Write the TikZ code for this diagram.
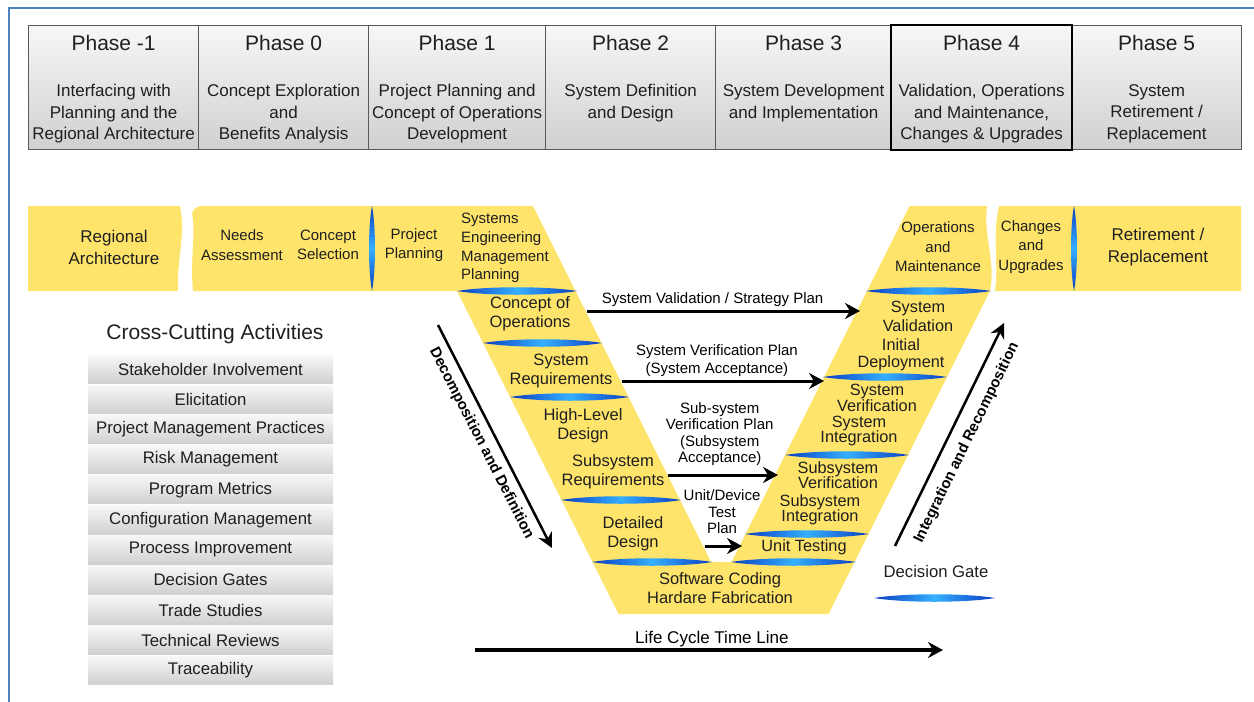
\documentclass[tikz,border=0pt]{standalone}
\usepackage{fontspec}
\setmainfont{Liberation Sans}
\usetikzlibrary{arrows.meta}

\definecolor{vyellow}{HTML}{FFE46B}
\definecolor{gatedark}{HTML}{0A3CC2}
\definecolor{gatelight}{HTML}{34B0FF}
\definecolor{framebl}{HTML}{4F81BD}
\definecolor{boxtop}{HTML}{F7F7F7}
\definecolor{boxbot}{HTML}{D0D0D0}

% decision gate lenses: horizontal {x1}{x2}{y}, vertical {x}{y1}{y2}
\newcommand{\hgate}[3]{%
  \shade[left color=gatedark, right color=gatedark, middle color=gatelight]
    (#1,#3) .. controls ({#1+(#2-#1)*0.25},{#3-5}) and ({#1+(#2-#1)*0.75},{#3-5}) .. (#2,#3)
            .. controls ({#1+(#2-#1)*0.75},{#3+5}) and ({#1+(#2-#1)*0.25},{#3+5}) .. (#1,#3) -- cycle;}
\newcommand{\vgate}[3]{%
  \shade[top color=gatedark, bottom color=gatedark, middle color=gatelight]
    (#1,#2) .. controls ({#1+4},{#2+(#3-#2)*0.25}) and ({#1+4},{#2+(#3-#2)*0.75}) .. (#1,#3)
            .. controls ({#1-4},{#2+(#3-#2)*0.75}) and ({#1-4},{#2+(#3-#2)*0.25}) .. (#1,#2) -- cycle;}

\begin{document}
\begin{tikzpicture}
    [ x=1pt, y=-1pt
    , every node/.style={inner sep=0pt, text=black!88}
    , phasebox/.style={draw=black!65, line width=1.2pt, top color=boxtop, bottom color=boxbot, anchor=north west, minimum height=124pt}
    , phasetitle/.style={font=\fontsize{21}{25}\selectfont}
    , phasetext/.style={font=\fontsize{17}{21.5}\selectfont, align=center, anchor=north}
    , bandbig/.style={font=\fontsize{17}{22}\selectfont, align=center}
    , bandsmall/.style={font=\fontsize{15}{19.5}\selectfont, align=center}
    , armtext/.style={font=\fontsize{16.5}{19}\selectfont, align=center}
    , tighttext/.style={font=\fontsize{16.3}{15.5}\selectfont, align=center}
    , plantext/.style={font=\fontsize{15}{16.5}\selectfont, align=center, text=black}
    , activity/.style={top color=boxtop, bottom color=boxbot, minimum width=245pt, minimum height=28.5pt, font=\fontsize{16.8}{20}\selectfont}
    , flow/.style={line width=3pt, -{Stealth[length=15pt, width=16pt, inset=5pt]}}
    , trend/.style={line width=2.5pt, -{Stealth[length=15pt, width=15pt, inset=5pt]}}
    , trendlabel/.style={font=\bfseries\fontsize{15}{18}\selectfont, sloped, text=black}
    ]

    \useasboundingbox (0,0) rectangle (1254,702);
    \draw[framebl, line width=1.5pt] (1254,8) -- (9,8) -- (9,702);

    % phases
    \foreach \n/\x/\w/\ttl/\dsc in
      {phm/28/170/{Phase -1}/{Interfacing with\\Planning and the\\Regional Architecture},
       ph0/198/170/{Phase 0}/{Concept Exploration\\and\\Benefits Analysis},
       ph1/368/177/{Phase 1}/{Project Planning and\\Concept of Operations\\Development},
       ph2/545/170/{Phase 2}/{System Definition\\and Design},
       ph3/715/176/{Phase 3}/{System Development\\and Implementation},
       ph4/891/180/{Phase 4}/{Validation, Operations\\and Maintenance,\\Changes \& Upgrades},
       ph5/1071/170/{Phase 5}/{System\\Retirement /\\Replacement}}
    {
      \node[phasebox, minimum width=\w pt] (\n) at (\x,25) {};
      \node[phasetitle] (\n-t) at ([yshift=-18pt]\n.north) {\ttl};
      \node[phasetext] (\n-d) at ([yshift=-59pt]\n.north) {\dsc};
    }
    \draw[black, line width=1.6pt] (ph4.north west) rectangle (ph4.south east);

    % the V
    \fill[vyellow] (28,206) -- (180,206) .. controls (186,235) and (176,265) .. (178,291) -- (28,291) -- cycle;
    \fill[vyellow] (202,206) -- (533,206) -- (711,562) -- (731.5,562) -- (909.5,206) -- (987,206)
      .. controls (983,235) and (996,262) .. (990,291) -- (828.5,614) -- (618.5,614) -- (457,291)
      -- (193,291) .. controls (190,260) and (196,230) .. (192,214) .. controls (193,209) and (197,206) .. (202,206) -- cycle;
    \fill[vyellow] (999,206) -- (1241,206) -- (1241,291) -- (995,291) .. controls (999,265) and (992,235) .. (999,206) -- cycle;

    \vgate{372}{206}{291}
    \vgate{1074}{206}{291}
    \hgate{457}{577}{291}
    \hgate{483}{602}{343}
    \hgate{510}{629}{397}
    \hgate{561}{681}{500}
    \hgate{592}{712}{562}
    \hgate{866}{991}{291}
    \hgate{823}{947}{377}
    \hgate{785}{909}{455}
    \hgate{745}{869}{534}
    \hgate{731}{856}{562}

    \node[bandbig] (regarch) at (114,247) {Regional\\Architecture};
    \node[bandsmall] (needs) at (242,245) {Needs\\Assessment};
    \node[bandsmall] (concsel) at (328,245) {Concept\\Selection};
    \node[bandsmall] (projplan) at (414,245) {Project\\Planning};
    \node[bandsmall, align=left, anchor=west, font=\fontsize{15}{18.7}\selectfont] (semp) at (461,248) {Systems\\Engineering\\Management\\Planning};
    \node[bandsmall] (opsmaint) at (938,247) {Operations\\and\\Maintenance};
    \node[bandsmall] (changes) at (1031,247) {Changes\\and\\Upgrades};
    \node[bandbig] (retire) at (1158,247) {Retirement /\\Replacement};

    \node[armtext] (conops) at (530,314) {Concept of\\Operations};
    \node[armtext] (sysreq) at (561,371) {System\\Requirements};
    \node[armtext] (hld) at (583,426) {High-Level\\Design};
    \node[armtext] (subreq) at (613,472) {Subsystem\\Requirements};
    \node[armtext] (detdes) at (633,534) {Detailed\\Design};
    \node[armtext] (swcode) at (720,588) {Software Coding\\Hardare Fabrication};

    \node[tighttext, font=\fontsize{16.3}{19}\selectfont] (sysval) at (918,316) {System\\Validation};
    \node[tighttext, font=\fontsize{16.3}{17}\selectfont] (initdep) at (901,355) {Initial\\Deployment};
    \node[tighttext] (sysver) at (877,398) {System\\Verification};
    \node[tighttext] (sysint) at (859,431) {System\\Integration};
    \node[tighttext] (subver) at (838,475) {Subsystem\\Verification};
    \node[tighttext] (subint) at (820,510) {Subsystem\\Integration};
    \node[tighttext] (unittest) at (804,547) {Unit Testing};

    % plans across the V
    \coordinate (valS) at (587,311);  \coordinate (valE) at (860,311);
    \coordinate (verS) at (622,381);  \coordinate (verE) at (824,381);
    \coordinate (subS) at (668,475);  \coordinate (subE) at (778,475);
    \coordinate (unitS) at (705,546); \coordinate (unitE) at (742,546);

    \draw[flow] (valS) -- node[plantext, pos=0.46, above=2.4pt] (valplan) {System Validation / Strategy Plan} (valE);
    \draw[flow] (verS) -- node[plantext, pos=0.47, above=2.5pt, font=\fontsize{15}{18}\selectfont] (verplan) {System Verification Plan\\(System Acceptance)} (verE);
    \draw[flow] (subS) -- node[plantext, pos=0.47, above=7.4pt] (subplan) {Sub-system\\Verification Plan\\(Subsystem\\Acceptance)} (subE);
    \draw[flow] (unitS) -- node[plantext, pos=0.46, above=10.6pt] (unitplan) {Unit/Device\\Test\\Plan} (unitE);

    % decomposition / integration
    \coordinate (decS) at (438,325);  \coordinate (decE) at (552,548);
    \coordinate (intS) at (895,546);  \coordinate (intE) at (1004,323);
    \draw[trend] (decS) -- node[trendlabel, below=7pt] (decomp) {Decomposition and Definition} (decE);
    \draw[trend] (intS) -- node[trendlabel, below=11pt] (integ) {Integration and Recomposition} (intE);

    % decision gate key
    \node[font=\fontsize{16.7}{20}\selectfont] (gate) at (936,572) {Decision Gate};
    \hgate{874}{995}{598}

    % time line
    \coordinate (lifeS) at (475,650); \coordinate (lifeE) at (943,650);
    \draw[flow, line width=3.5pt] (lifeS) -- node[plantext, pos=0.506, above=1pt, font=\fontsize{17}{20}\selectfont] (life) {Life Cycle Time Line} (lifeE);

    % cross-cutting activities
    \node[font=\fontsize{21}{25}\selectfont] (crosstitle) at (215,334) {Cross-Cutting Activities};
    \foreach \t [count=\i] in {Stakeholder Involvement, Elicitation, Project Management Practices,
      Risk Management, Program Metrics, Configuration Management, Process Improvement,
      Decision Gates, Trade Studies, Technical Reviews, Traceability}
      \node[activity] (act\i) at (210.5,{339.15+30.1*\i}) {\t};

\end{tikzpicture}
\end{document}
